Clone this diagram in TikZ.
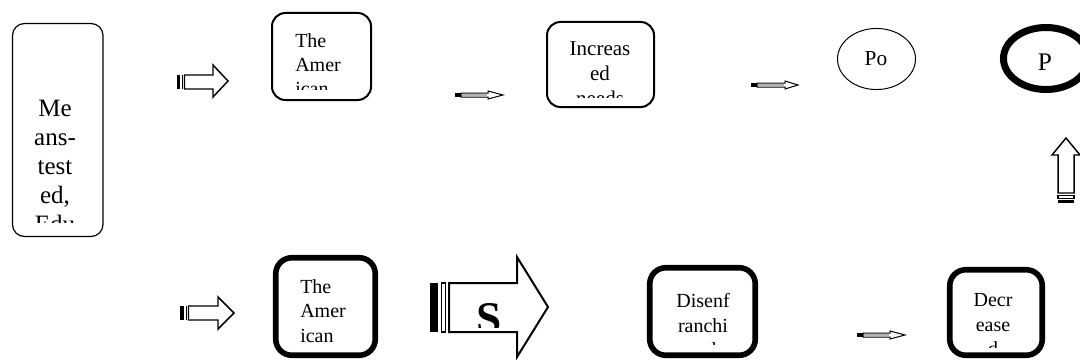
\documentclass[tikz,border=0pt]{standalone}
\usepackage{fontspec}
\setmainfont{Liberation Serif}
\begin{document}
\begin{tikzpicture}[x=0.75pt,y=-0.75pt,
  thinbox/.style={draw=black, line width=0.9pt, rounded corners=9pt},
  midbox/.style={draw=black, line width=1.5pt, rounded corners=10pt},
  thickbox/.style={draw=black, line width=4.2pt, rounded corners=12pt},
  blockarrow/.style={draw=black, fill=white, line width=1.1pt, line join=miter},
  thinarrow/.style={draw=black, fill=white, line width=0.75pt, line join=miter},
  stripe/.style={fill=black},
  lbl/.style={inner sep=0pt, text=black},
  fa/.style={font=\fontsize{18.75pt}{21.75pt}\selectfont},
  fb/.style={font=\fontsize{15pt}{18pt}\selectfont},
  fc/.style={font=\fontsize{15.75pt}{18.75pt}\selectfont},
  fd/.style={font=\fontsize{15pt}{18.6pt}\selectfont}]
\useasboundingbox (0,0) rectangle (1080,360);
\clip (0,0) rectangle (1080,360);

% ---------- top row ----------
% Box A
\draw[thinbox] (12.5,23.5) rectangle (103,236.5);
\begin{scope}
  \clip (14,25) rectangle (101,222);
  \node[lbl, fa, anchor=north, align=center] (textA) at (55,100) {Me\\ans-\\test\\ed,\\Edu};
\end{scope}

% arrow 1
\fill[stripe] (177,75) rectangle (180,89);
\fill[stripe] (181.5,75) rectangle (183,89);
\draw[blockarrow] (184.5,75) -- (213,75) -- (213,65) -- (228,81) -- (213,97) -- (213,89) -- (184.5,89) -- cycle;

% Box B
\draw[midbox] (272,13) rectangle (371,100);
\begin{scope}
  \clip (274,15) rectangle (369,89);
  \node[lbl, fb, anchor=north west, align=left] (textB) at (295,33) {The\\Amer\\ican};
\end{scope}

% arrow 2
\fill[stripe] (455,93) rectangle (461,97);
\draw[thinarrow] (461,93) -- (488,93) -- (488,91) -- (503,95) -- (488,99) -- (488,97) -- (461,97) -- cycle;
\fill[gray!60] (462,94.2) rectangle (487.3,95.8);

% Box C
\draw[midbox] (547,22) rectangle (654,107);
\begin{scope}
  \clip (549,24) rectangle (652,97);
  \node[lbl, fc, anchor=north, align=center] (textC) at (600,41) {Increas\\ed\\needs};
\end{scope}

% arrow 3
\fill[stripe] (751,83) rectangle (757,87);
\draw[thinarrow] (757,83) -- (785,83) -- (785,81) -- (798,85) -- (785,89) -- (785,87) -- (757,87) -- cycle;
\fill[gray!60] (758,84.2) rectangle (784.3,85.8);

% ellipse Po
\draw[line width=0.75pt] (876.5,59) ellipse [x radius=29.25pt, y radius=22.9pt];
\node[lbl, font=\fontsize{16pt}{16pt}\selectfont] (po) at (876,59) {Po};

% ellipse P
\draw[line width=5.25pt] (1046,58.5) ellipse [x radius=31.9pt, y radius=23.25pt];
\node[lbl, font=\fontsize{19pt}{19pt}\selectfont] (p) at (1045,62) {P};

% up arrow
\fill[stripe] (1058,200) rectangle (1074,203);
\draw[draw=black, fill=white, line width=0.8pt] (1058,195.5) rectangle (1074,198.3);
\draw[blockarrow] (1058,193) -- (1058,155) -- (1052,155) -- (1066,138) -- (1080,155) -- (1074,155) -- (1074,193) -- cycle;

% ---------- bottom row ----------
% arrow 4
\fill[stripe] (180,306) rectangle (184,320);
\fill[stripe] (185.5,306) rectangle (187,320);
\draw[blockarrow] (188.5,306) -- (218,306) -- (218,297) -- (234,313) -- (218,329) -- (218,320) -- (188.5,320) -- cycle;

% Box D
\draw[thickbox] (275.75,257.75) rectangle (375.25,355.25);
\node[lbl, fd, anchor=north west, align=left] (textD) at (300,279) {The\\Amer\\ican};

% big arrow S
\fill[stripe] (430,283) rectangle (438,332);
\draw[draw=black, fill=white, line width=1.1pt] (441.5,283) rectangle (445.5,332);
\draw[blockarrow, line width=1.5pt] (449,283) -- (517,283) -- (517,257) -- (548,307) -- (517,357) -- (517,332) -- (449,332) -- cycle;
\begin{scope}
  \clip (451,285) rectangle (516,327);
  \node[lbl, anchor=north, font=\fontsize{34pt}{34pt}\selectfont\bfseries] (s) at (489,303) {S};
\end{scope}

% Box E
\draw[thickbox] (649.75,267.75) rectangle (755.25,355.25);
\begin{scope}
  \clip (653,271) rectangle (752,344.5);
  \node[lbl, fd, anchor=north, align=center] (textE) at (703,293) {Disenf\\ranchi\\sed};
\end{scope}

% arrow 5
\fill[stripe] (857,333) rectangle (863,337);
\draw[thinarrow] (863,333) -- (890,333) -- (890,331) -- (905,335) -- (890,339) -- (890,337) -- (863,337) -- cycle;
\fill[gray!60] (864,334.2) rectangle (889.3,335.8);

% Box F
\draw[thickbox] (949.75,269.75) rectangle (1042.25,355.25);
\begin{scope}
  \clip (953,273) rectangle (1039,347);
  \node[lbl, fd, anchor=north, align=center] (textF) at (993,293) {Decr\\ease\\d};
\end{scope}
\end{tikzpicture}
\end{document}
